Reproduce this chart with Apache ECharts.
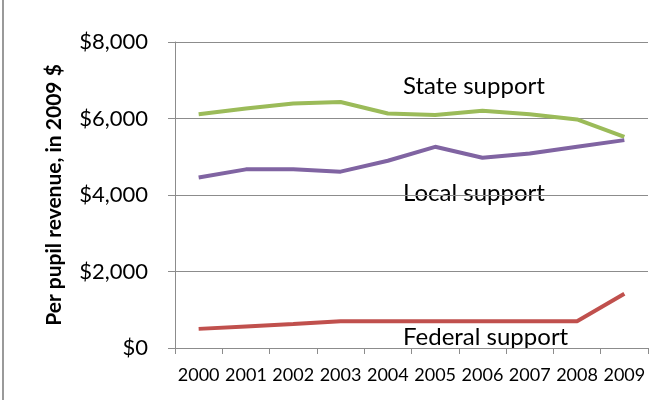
<!DOCTYPE html>
<html>
<head>
<meta charset="utf-8">
<script src="https://cdn.jsdelivr.net/npm/echarts@6/dist/echarts.min.js"></script>
<style>
html,body{margin:0;padding:0;background:#fff;}
#c{width:670px;height:400px;}
</style>
</head>
<body>
<div id="c"></div>
<script>
var years = ['2000','2001','2002','2003','2004','2005','2006','2007','2008','2009'];
var stateSupport = [6110, 6260, 6390, 6430, 6130, 6090, 6200, 6110, 5975, 5520];
var localSupport = [4460, 4670, 4670, 4610, 4895, 5260, 4975, 5085, 5260, 5435];
var federalSupport = [500, 565, 625, 700, 700, 700, 700, 700, 700, 1420];
var yTicks = [0, 2000, 4000, 6000, 8000];
var seriesNames = ['State support', 'Local support', 'Federal support'];

var FONT = 'Lato';
var chart = echarts.init(document.getElementById('c'), null, {renderer: 'canvas'});
function mkSeries(name, data, color) {
  return {
    name: name, type: 'line', data: data, symbol: 'none', smooth: false,
    lineStyle: {color: color, width: 4}, itemStyle: {color: color}
  };
}
chart.setOption({
  animation: false,
  backgroundColor: '#fff',
  grid: {left: 175, right: 22, top: 42, bottom: 52},
  xAxis: {
    type: 'category', data: years, boundaryGap: true,
    axisLine: {lineStyle: {color: '#8c8c8c', width: 1}},
    axisTick: {show: true, alignWithLabel: false, length: 6, lineStyle: {color: '#8c8c8c'}},
    axisLabel: {color: '#000', fontFamily: FONT, fontSize: 18, margin: 18, interval: 0},
    splitLine: {show: false}
  },
  yAxis: {
    type: 'value', min: yTicks[0], max: yTicks[yTicks.length - 1], interval: 2000,
    name: 'Per pupil revenue, in 2009 $', nameLocation: 'middle', nameGap: 110,
    nameTextStyle: {color: '#000', fontFamily: FONT, fontSize: 21, fontWeight: 'bold'},
    axisLine: {show: true, lineStyle: {color: '#8c8c8c', width: 1}},
    axisTick: {show: true, inside: false, length: 7, lineStyle: {color: '#8c8c8c'}},
    axisLabel: {color: '#000', fontFamily: FONT, fontSize: 22, margin: 27,
      formatter: function (v) { return '$' + v.toLocaleString('en-US'); }},
    splitLine: {show: true, lineStyle: {color: '#8c8c8c', width: 1}}
  },
  series: [
    mkSeries(seriesNames[0], stateSupport, '#9BBB59'),
    mkSeries(seriesNames[1], localSupport, '#8064A2'),
    mkSeries(seriesNames[2], federalSupport, '#C0504D')
  ],
  graphic: [
    {type: 'rect', shape: {x: 2, y: 0, width: 2, height: 400}, style: {fill: '#9a9a9a'}, silent: true},
    {type: 'text', x: 403, y: 86, style: {text: seriesNames[0], font: '24px Lato', fill: '#000', textVerticalAlign: 'middle'}},
    {type: 'text', x: 403, y: 193, style: {text: seriesNames[1], font: '24px Lato', fill: '#000', textVerticalAlign: 'middle'}},
    {type: 'text', x: 403, y: 337, style: {text: seriesNames[2], font: '24px Lato', fill: '#000', textVerticalAlign: 'middle'}}
  ]
});
</script>
</body>
</html>
